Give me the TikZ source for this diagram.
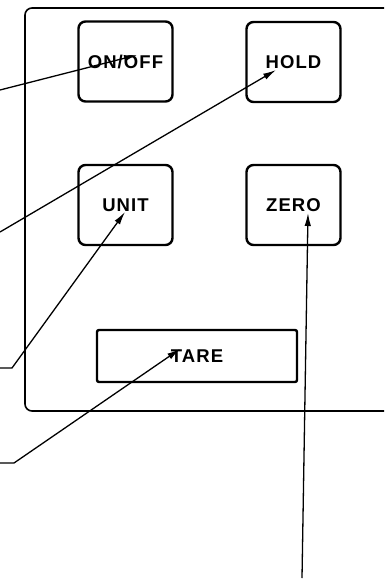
\documentclass[tikz,border=0pt]{standalone}
\usepackage{fontspec}
\newfontfamily\keyfont{Liberation Sans}[LetterSpace=6]
\usetikzlibrary{arrows.meta}
\begin{document}
\begin{tikzpicture}[x=1pt,y=-1pt,
  panel/.style={line width=1.6pt, rounded corners=7pt},
  key/.style={draw, line width=2.4pt, rounded corners=7pt,
    font=\keyfont\bfseries\fontsize{18.5}{20}\selectfont,
    text height=13.2pt, text depth=0pt, inner sep=0pt,
    minimum width=94pt, minimum height=80pt},
  widekey/.style={key, rounded corners=2pt, minimum width=200pt, minimum height=52pt},
  leader/.style={line width=1.3pt, -{Latex[length=13pt,width=6.5pt]}}
]
\useasboundingbox (0,0) rectangle (384,583);
% panel outline
\draw[panel] (384,8) -- (25,8) -- (25,411) -- (384,411);
% keys
\node[key] (onoff) at (125.5,61.5) {ON/OFF};
\node[key] (hold)  at (293.5,62)   {HOLD};
\node[key] (unit)  at (125.5,205)  {UNIT};
\node[key] (zero)  at (293.5,205)  {ZERO};
\node[widekey] (tare) at (197,356) {TARE};
% leader ends
\coordinate (s1) at (0,90);
\coordinate (t1) at (137,55);
\coordinate (s2) at (0,232);
\coordinate (t2) at (276,70);
\coordinate (s3) at (0,368);
\coordinate (k3) at (12,368);
\coordinate (t3) at (125,212);
\coordinate (s4) at (0,463);
\coordinate (k4) at (14,463);
\coordinate (t4) at (180,349);
\coordinate (s5) at (302,578);
\coordinate (t5) at (308,213);
% leaders
\draw[leader] (s1) -- (t1);
\draw[leader] (s2) -- (t2);
\draw[leader] (s3) -- (k3) -- (t3);
\draw[leader] (s4) -- (k4) -- (t4);
\draw[leader] (s5) -- (t5);
\end{tikzpicture}
\end{document}
